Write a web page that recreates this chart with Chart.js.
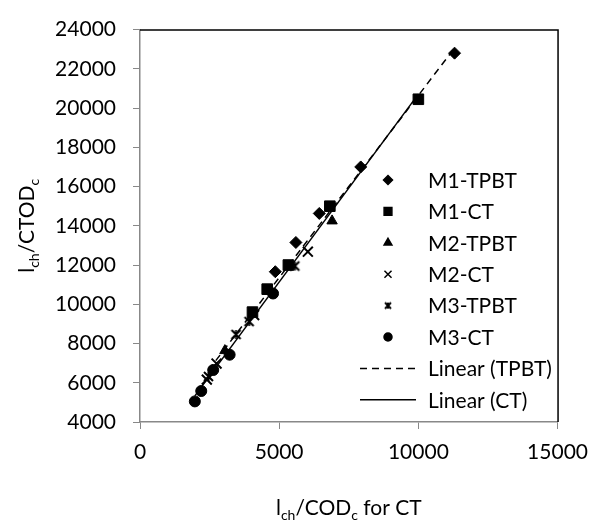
<!DOCTYPE html>
<html>
<head>
<meta charset="utf-8">
<script src="https://cdn.jsdelivr.net/npm/chart.js@4.4.0/dist/chart.umd.min.js"></script>
<style>
  html, body { margin: 0; padding: 0; background: #fff; }
  #wrap { width: 599px; height: 526px; }
</style>
</head>
<body>
<div id="wrap"><canvas id="chart" width="599" height="526"></canvas></div>
<script>
// values
const m1TpbtX = [4860, 5600, 6440, 7930, 11300];
const m1TpbtY = [11660, 13150, 14630, 17000, 22800];
const m1CtX = [4040, 4570, 5330, 6820, 10000];
const m1CtY = [9600, 10770, 12000, 15000, 20450];
const m2TpbtX = [3050, 6900];
const m2TpbtY = [7640, 14250];
const m2CtX = [2400, 2750, 4100, 6030];
const m2CtY = [6160, 6980, 9450, 12680];
const m3TpbtX = [2460, 3450, 3920, 5560];
const m3TpbtY = [6320, 8460, 9120, 11950];
const m3CtX = [1970, 2200, 2630, 3220, 4780];
const m3CtY = [5050, 5580, 6650, 7430, 10550];
// trendline end points
const trendTpbtX = [2460, 11300];
const trendTpbtY = [6640, 23060];
const trendCtX = [1970, 10000];
const trendCtY = [5330, 20710];

const xTicks = [0, 5000, 10000, 15000];
const yTicks = [4000, 6000, 8000, 10000, 12000, 14000, 16000, 18000, 20000, 22000, 24000];

const FONT = "Lato, 'Open Sans', sans-serif";
const FS = 21;
const AXIS_GREY = '#888888';

function pts(xs, ys) {
  return xs.map((x, i) => ({ x: x, y: ys[i] }));
}

// Excel style "*" marker: an x with a vertical bar
function starMarker(r, lw) {
  const c = document.createElement('canvas');
  const s = Math.ceil(r * 2 + lw * 2);
  c.width = s; c.height = s;
  const g = c.getContext('2d');
  const m = s / 2;
  g.strokeStyle = '#000';
  g.lineWidth = lw;
  g.beginPath();
  g.moveTo(m - r, m - r); g.lineTo(m + r, m + r);
  g.moveTo(m + r, m - r); g.lineTo(m - r, m + r);
  g.moveTo(m, m - r); g.lineTo(m, m + r);
  g.stroke();
  return c;
}

const starBig = starMarker(4.5, 2);
const starSmall = starMarker(3, 2);

const legendItems = [
  { label: 'M1-TPBT', style: 'rectRot', r: 4.5 },
  { label: 'M1-CT', style: 'rect', r: 5.5 },
  { label: 'M2-TPBT', style: 'triangle', r: 4.5 },
  { label: 'M2-CT', style: 'crossRot', r: 5 },
  { label: 'M3-TPBT', style: starSmall, r: 3 },
  { label: 'M3-CT', style: 'circle', r: 4 },
  { label: 'Linear (TPBT)', line: [7, 5] },
  { label: 'Linear (CT)', line: [] }
];

function scatter(label, data, style, r, bw) {
  return {
    type: 'scatter', label: label, data: data,
    pointStyle: style, pointRadius: r, pointHoverRadius: r,
    pointBackgroundColor: '#000', pointBorderColor: '#000',
    pointBorderWidth: bw || 1, showLine: false
  };
}

function trend(label, data, dash) {
  return {
    type: 'line', label: label, data: data,
    borderColor: '#000', borderWidth: 1.5, borderDash: dash,
    pointRadius: 0, fill: false, tension: 0
  };
}

// box lines, titles with subscripts and the in-plot legend
const extras = {
  id: 'extras',
  afterDraw(chart) {
    const ctx = chart.ctx;
    const a = chart.chartArea;
    ctx.save();
    ctx.strokeStyle = '#000';
    ctx.lineWidth = 1.5;
    ctx.beginPath();
    ctx.moveTo(a.left, a.top + 0.5);
    ctx.lineTo(a.right + 0.5, a.top + 0.5);
    ctx.lineTo(a.right + 0.5, a.bottom);
    ctx.stroke();

    ctx.fillStyle = '#000';
    ctx.textBaseline = 'alphabetic';

    function textWidth(parts, big, small) {
      let w = 0;
      parts.forEach(p => {
        ctx.font = (p[1] ? small : big) + 'px ' + FONT;
        w += ctx.measureText(p[0]).width;
      });
      return w;
    }
    function drawSub(parts, x, y, big, small) {
      let cx = x;
      parts.forEach(p => {
        ctx.font = (p[1] ? small : big) + 'px ' + FONT;
        ctx.fillText(p[0], cx, p[1] ? y + 5 : y);
        cx += ctx.measureText(p[0]).width;
      });
    }

    const xTitle = [['l', false], ['ch', true], ['/COD', false], ['c', true], [' for CT', false]];
    const yTitle = [['l', false], ['ch', true], ['/CTOD', false], ['c', true]];
    const xw = textWidth(xTitle, FS, 14);
    drawSub(xTitle, (a.left + a.right) / 2 - xw / 2, 515, FS, 14);

    ctx.save();
    ctx.translate(34, (a.top + a.bottom) / 2);
    ctx.rotate(-Math.PI / 2);
    const yw = textWidth(yTitle, FS, 14);
    drawSub(yTitle, -yw / 2, 0, FS, 14);
    ctx.restore();

    // legend
    const lx = 388, tx = 428;
    let ly = 180;
    ctx.textBaseline = 'middle';
    ctx.font = FS + 'px ' + FONT;
    legendItems.forEach(it => {
      if (it.line) {
        ctx.strokeStyle = '#000';
        ctx.lineWidth = 1.5;
        ctx.setLineDash(it.line);
        ctx.beginPath();
        ctx.moveTo(360, ly);
        ctx.lineTo(416, ly);
        ctx.stroke();
        ctx.setLineDash([]);
      } else {
        ctx.fillStyle = '#000';
        ctx.strokeStyle = '#000';
        Chart.helpers.drawPoint(ctx, { pointStyle: it.style, radius: it.r, borderWidth: 1.5, rotation: 0 }, lx, ly);
      }
      ctx.fillStyle = '#000';
      ctx.fillText(it.label, tx, ly + 1);
      ly += 31.4;
    });
    ctx.restore();
  }
};

new Chart(document.getElementById('chart'), {
  data: {
    datasets: [
      trend('Linear (TPBT)', pts(trendTpbtX, trendTpbtY), [7, 5]),
      trend('Linear (CT)', pts(trendCtX, trendCtY), []),
      scatter('M1-TPBT', pts(m1TpbtX, m1TpbtY), 'rectRot', 6),
      scatter('M1-CT', pts(m1CtX, m1CtY), 'rect', 7.5),
      scatter('M2-TPBT', pts(m2TpbtX, m2TpbtY), 'triangle', 6),
      scatter('M2-CT', pts(m2CtX, m2CtY), 'crossRot', 7, 2),
      scatter('M3-TPBT', pts(m3TpbtX, m3TpbtY), starBig, 5),
      scatter('M3-CT', pts(m3CtX, m3CtY), 'circle', 5.5)
    ]
  },
  options: {
    responsive: false,
    animation: false,
    layout: { padding: { top: 17, right: 32, left: 0, bottom: 0 } },
    plugins: {
      legend: { display: false },
      tooltip: { enabled: false }
    },
    scales: {
      x: {
        type: 'linear',
        min: xTicks[0], max: xTicks[xTicks.length - 1],
        afterBuildTicks: s => { s.ticks = xTicks.map(v => ({ value: v })); },
        afterFit: s => { s.height = 104; },
        grid: { drawOnChartArea: false, drawTicks: true, tickLength: 7, color: AXIS_GREY },
        border: { color: AXIS_GREY, width: 1.5 },
        ticks: { color: '#000', padding: 11, font: { family: FONT, size: FS }, maxRotation: 0,
                 callback: v => String(v) }
      },
      y: {
        type: 'linear',
        min: yTicks[0], max: yTicks[yTicks.length - 1],
        afterBuildTicks: s => { s.ticks = yTicks.map(v => ({ value: v })); },
        afterFit: s => { s.width = 140; },
        grid: { drawOnChartArea: false, drawTicks: true, tickLength: 7, color: AXIS_GREY },
        border: { color: AXIS_GREY, width: 1.5 },
        ticks: { color: '#000', padding: 17, font: { family: FONT, size: FS },
                 callback: v => String(v) }
      }
    }
  },
  plugins: [extras]
});
</script>
</body>
</html>
